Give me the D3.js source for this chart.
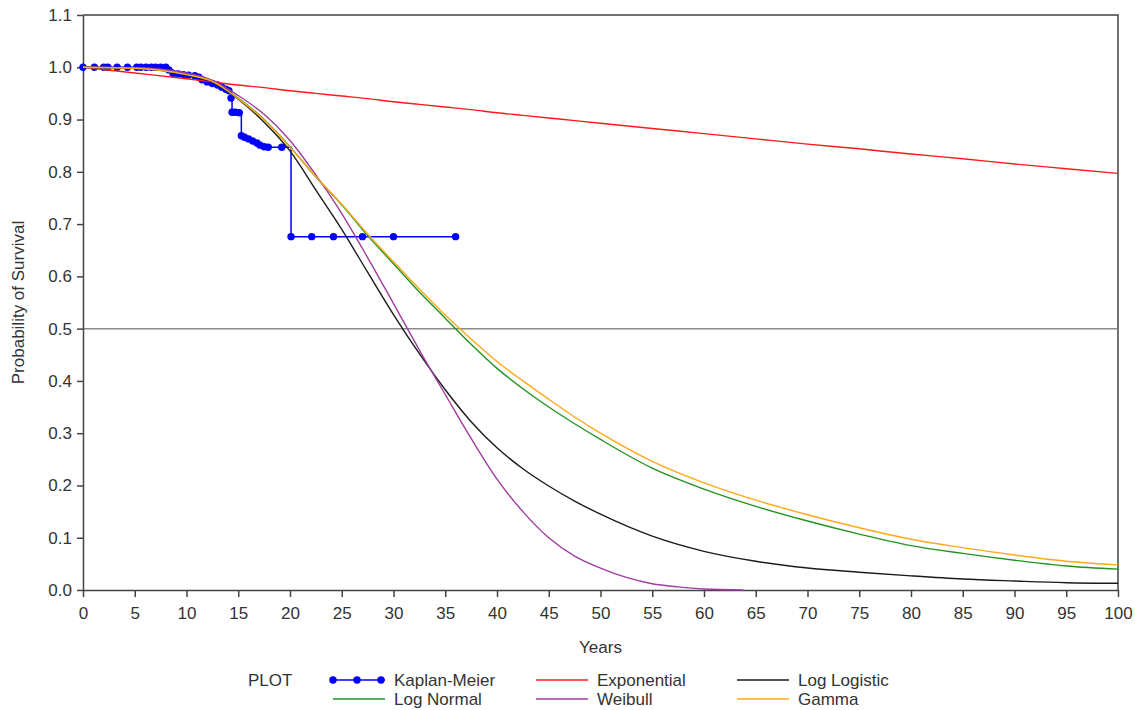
<!DOCTYPE html>
<html>
<head>
<meta charset="utf-8">
<script src="https://cdn.jsdelivr.net/npm/d3@7"></script>
<style>
  body { margin: 0; background: #fff; }
  svg text { font-family: "Liberation Sans", Arial, sans-serif; fill: #333; }
</style>
</head>
<body>
<svg id="chart" width="1135" height="710"></svg>
<script>
// Fitted survival curves, sampled by year
const years = [0, 5, 10, 12.5, 15, 17.5, 20, 22.5, 25, 27.5, 30, 32.5, 35, 37.5, 40, 42.5, 45, 47.5, 50, 55, 60, 65, 70, 75, 80, 85, 90, 95, 100];
const exponential = [1.0, 0.989, 0.978, 0.972, 0.966, 0.961, 0.955, 0.950, 0.945, 0.940, 0.934, 0.929, 0.924, 0.919, 0.913, 0.908, 0.903, 0.898, 0.893, 0.883, 0.873, 0.863, 0.853, 0.844, 0.834, 0.825, 0.815, 0.806, 0.797];
const logLogistic = [1.0, 0.998, 0.986, 0.972, 0.939, 0.895, 0.840, 0.765, 0.690, 0.608, 0.527, 0.452, 0.383, 0.322, 0.272, 0.232, 0.199, 0.170, 0.145, 0.103, 0.074, 0.055, 0.042, 0.034, 0.027, 0.021, 0.0172, 0.014, 0.0128];
const logNormal = [1.0, 0.998, 0.986, 0.973, 0.941, 0.900, 0.848, 0.790, 0.737, 0.678, 0.624, 0.570, 0.520, 0.470, 0.424, 0.385, 0.350, 0.318, 0.288, 0.233, 0.193, 0.160, 0.132, 0.107, 0.085, 0.070, 0.057, 0.046, 0.040];
const gamma = [1.0, 0.998, 0.986, 0.973, 0.940, 0.899, 0.847, 0.791, 0.738, 0.681, 0.628, 0.576, 0.526, 0.480, 0.437, 0.400, 0.365, 0.331, 0.300, 0.246, 0.205, 0.172, 0.144, 0.119, 0.097, 0.081, 0.067, 0.055, 0.048];
const weibullYears = [0, 5, 10, 12.5, 15, 17.5, 20, 22.5, 25, 27.5, 30, 32.5, 35, 37.5, 40, 42.5, 45, 47.5, 50, 52.5, 55, 57.5, 60, 63.8];
const weibull = [1.0, 0.999, 0.989, 0.975, 0.946, 0.910, 0.860, 0.794, 0.720, 0.636, 0.548, 0.459, 0.374, 0.290, 0.212, 0.150, 0.100, 0.065, 0.042, 0.024, 0.012, 0.006, 0.002, 0.0];

// Kaplan-Meier estimate (event and censoring times)
const kmTime = [0, 1.1, 2.0, 2.4, 3.3, 4.3, 5.2, 5.6, 6.1, 6.6, 7.0, 7.5, 8.0, 8.3, 8.7, 9.2, 9.7, 10.2, 10.8, 11.2, 11.5, 12.0, 12.5, 13.0, 13.4, 13.8, 14.1, 14.3, 14.4, 14.7, 15.1, 15.3, 15.6, 16.0, 16.4, 16.8, 17.1, 17.5, 17.9, 19.2, 20.1, 22.1, 24.2, 27.0, 30.0, 36.0];
const kmSurv = [1.0, 1.0, 1.0, 1.0, 1.0, 1.0, 1.0, 1.0, 1.0, 1.0, 1.0, 1.0, 1.0, 0.995, 0.988, 0.987, 0.986, 0.985, 0.984, 0.981, 0.976, 0.972, 0.969, 0.966, 0.962, 0.958, 0.955, 0.941, 0.914, 0.914, 0.913, 0.869, 0.866, 0.863, 0.859, 0.855, 0.851, 0.848, 0.847, 0.847, 0.676, 0.676, 0.676, 0.676, 0.676, 0.676];

// Axis ticks
const yTicks = [0, 0.1, 0.2, 0.3, 0.4, 0.5, 0.6, 0.7, 0.8, 0.9, 1.0, 1.1];
const xTicks = [0, 5, 10, 15, 20, 25, 30, 35, 40, 45, 50, 55, 60, 65, 70, 75, 80, 85, 90, 95, 100];
const referenceLevel = 0.5;

const svg = d3.select("#chart");
const plotLeft = 83, plotRight = 1118, plotTop = 15, plotBottom = 590;
const x = d3.scaleLinear().domain([0, 100]).range([plotLeft, plotRight]);
const y = d3.scaleLinear().domain([0, 1.1]).range([plotBottom, plotTop]);
const axisColor = "#444";
const fontSize = "17px";

// Frame: top and right borders
svg.append("path")
  .attr("d", `M${plotLeft},${plotTop}H${plotRight}V${plotBottom}`)
  .attr("fill", "none").attr("stroke", axisColor).attr("stroke-width", 1.5);

// Reference line at median survival
svg.append("line")
  .attr("x1", x(0)).attr("x2", x(100))
  .attr("y1", y(referenceLevel)).attr("y2", y(referenceLevel))
  .attr("stroke", "#8a8a8a").attr("stroke-width", 1.5);

// Axes
const yAxis = svg.append("g").attr("transform", `translate(${plotLeft},0)`)
  .call(d3.axisLeft(y).tickValues(yTicks).tickFormat(d3.format(".1f")).tickSize(6).tickSizeOuter(0).tickPadding(5));
const xAxis = svg.append("g").attr("transform", `translate(0,${plotBottom})`)
  .call(d3.axisBottom(x).tickValues(xTicks).tickFormat(d3.format("d")).tickSize(7).tickSizeOuter(0).tickPadding(10));
[yAxis, xAxis].forEach(g => {
  g.attr("font-family", null);
  g.selectAll("path, line").attr("stroke", axisColor).attr("stroke-width", 1.5);
  g.selectAll("text").style("font-size", fontSize).attr("fill", "#333");
});

svg.append("text")
  .attr("x", (plotLeft + plotRight) / 2).attr("y", 653)
  .attr("text-anchor", "middle").style("font-size", fontSize)
  .text("Years");
svg.append("text")
  .attr("transform", `translate(24,${(plotTop + plotBottom) / 2}) rotate(-90)`)
  .attr("text-anchor", "middle").style("font-size", fontSize)
  .text("Probability of Survival");

// Series definitions
const kmPoints = kmTime.map((t, i) => [t, kmSurv[i]]);
const zip = (ts, vs) => ts.map((t, i) => [t, vs[i]]);
const fitted = [
  { name: "Exponential", color: "#ff1a1a", pts: zip(years, exponential) },
  { name: "Log Logistic", color: "#1a1a1a", pts: zip(years, logLogistic) },
  { name: "Log Normal", color: "#229322", pts: zip(years, logNormal) },
  { name: "Weibull", color: "#a03ca0", pts: zip(weibullYears, weibull) },
  { name: "Gamma", color: "#ffa81a", pts: zip(years, gamma) }
];
const kmColor = "#0000ff";

const smooth = d3.line().x(d => x(d[0])).y(d => y(d[1])).curve(d3.curveMonotoneX);
const step = d3.line().x(d => x(d[0])).y(d => y(d[1])).curve(d3.curveStepAfter);

// Kaplan-Meier step function with markers
svg.append("path").datum(kmPoints)
  .attr("d", step).attr("fill", "none")
  .attr("stroke", kmColor).attr("stroke-width", 1.5);
svg.append("g").selectAll("circle").data(kmPoints).join("circle")
  .attr("cx", d => x(d[0])).attr("cy", d => y(d[1])).attr("r", 3.7)
  .attr("fill", kmColor);

// Fitted curves
svg.append("g").selectAll("path").data(fitted).join("path")
  .attr("d", d => smooth(d.pts)).attr("fill", "none")
  .attr("stroke", d => d.color).attr("stroke-width", 1.4);

// Legend
const legendItems = [
  { name: "Kaplan-Meier", color: kmColor, marker: true },
  ...fitted.map(f => ({ name: f.name, color: f.color, marker: false }))
];
const colX = [333, 536, 737], rowY = [680, 699];
svg.append("text").attr("x", 248).attr("y", rowY[0]).attr("dy", "0.35em")
  .style("font-size", fontSize).text("PLOT");
const leg = svg.append("g").selectAll("g").data(legendItems).join("g")
  .attr("transform", (d, i) => `translate(${colX[i % 3]},${rowY[Math.floor(i / 3)]})`);
leg.append("line").attr("x1", 0).attr("x2", 52).attr("y1", 0).attr("y2", 0)
  .attr("stroke", d => d.color).attr("stroke-width", 1.5);
leg.filter(d => d.marker).selectAll("circle").data([0, 24, 48]).join("circle")
  .attr("cx", d => d).attr("cy", 0).attr("r", 3.7).attr("fill", kmColor);
leg.append("text").attr("x", 61).attr("dy", "0.35em")
  .style("font-size", fontSize).text(d => d.name);
</script>
</body>
</html>
